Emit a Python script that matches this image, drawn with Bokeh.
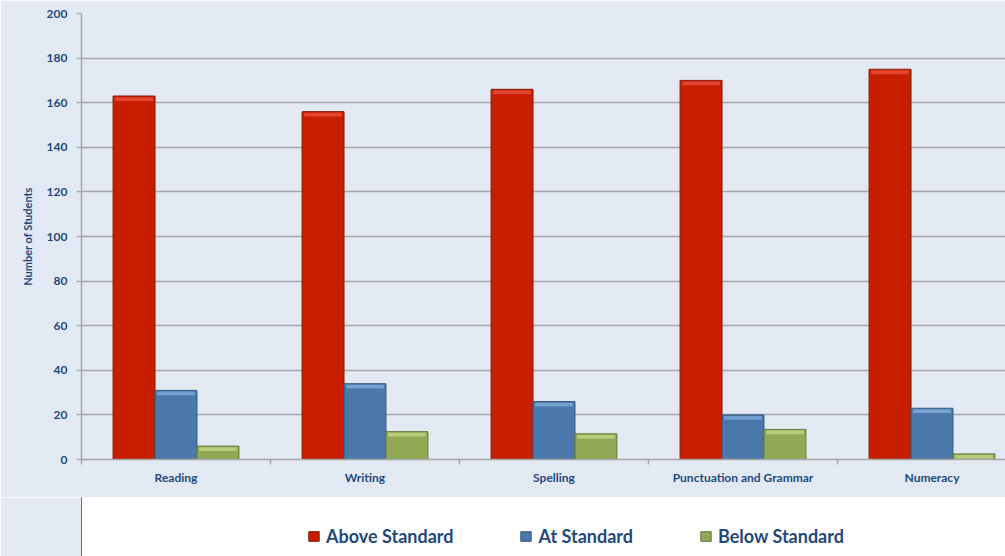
from bokeh.plotting import figure
from bokeh.layouts import column
from bokeh.models import Range1d, FixedTicker, Legend, LegendItem, BoxAnnotation
from bokeh.embed import file_html
from bokeh.resources import INLINE

# ---- data ----
categories = ["Reading", "Writing", "Spelling", "Punctuation and Grammar", "Numeracy"]
above_standard = [163, 156, 166, 170, 175]
at_standard = [31, 34, 26, 20, 23]
below_standard = [6, 12.5, 11.5, 13.5, 2.5]
series_names = ["Above Standard", "At Standard", "Below Standard"]
y_ticks = [0, 20, 40, 60, 80, 100, 120, 140, 160, 180, 200]

# ---- style ----
BG = "#E2E9F3"
GRID = "#A6A6A6"
TXT = "#1F497D"
FONT = "Lato"
fills = ["#C81E00", "#4A78AA", "#8FA955"]
edges = ["#8A1A08", "#35597F", "#65793B"]
highlights = ["#EE5548", "#86B2E0", "#C9DC8E"]
bar_w = 0.222
offsets = [-bar_w, 0.0, bar_w]

n = len(categories)
centers = [i + 0.5 for i in range(n)]

# ---------------- main chart ----------------
p = figure(width=1005, height=497, output_backend="svg", toolbar_location=None,
           x_range=Range1d(0, 924 / 189), y_range=Range1d(0, 200),
           min_border_left=81, min_border_right=0, min_border_top=13,
           min_border_bottom=38)
p.background_fill_color = BG
p.border_fill_color = BG
p.outline_line_color = None

p.xgrid.visible = False
p.ygrid.ticker = FixedTicker(ticks=y_ticks)
p.ygrid.grid_line_color = GRID
p.ygrid.grid_line_width = 1.5

p.yaxis.ticker = FixedTicker(ticks=y_ticks)
p.yaxis.axis_line_color = GRID
p.yaxis.axis_line_width = 1.5
p.yaxis.major_tick_line_color = GRID
p.yaxis.major_tick_line_width = 1.5
p.yaxis.major_tick_out = 5
p.yaxis.major_tick_in = 0
p.yaxis.minor_tick_line_color = None
p.yaxis.major_label_text_font = FONT
p.yaxis.major_label_text_font_style = "bold"
p.yaxis.major_label_text_font_size = "12px"
p.yaxis.major_label_text_color = TXT
p.yaxis.major_label_standoff = 9
p.yaxis.axis_label = "Number of Students"
p.yaxis.axis_label_text_font = FONT
p.yaxis.axis_label_text_font_style = "bold"
p.yaxis.axis_label_text_font_size = "11px"
p.yaxis.axis_label_text_color = TXT
p.yaxis.axis_label_standoff = 10

p.xaxis.ticker = FixedTicker(ticks=centers, minor_ticks=list(range(n + 1)))
p.xaxis.major_label_overrides = {c: name for c, name in zip(centers, categories)}
p.xaxis.axis_line_color = GRID
p.xaxis.axis_line_width = 1.5
p.xaxis.major_tick_line_color = None
p.xaxis.minor_tick_line_color = GRID
p.xaxis.minor_tick_line_width = 1.5
p.xaxis.minor_tick_out = 5
p.xaxis.minor_tick_in = 0
p.xaxis.major_label_text_font = FONT
p.xaxis.major_label_text_font_style = "bold"
p.xaxis.major_label_text_font_size = "12px"
p.xaxis.major_label_text_color = TXT
p.xaxis.major_label_standoff = 4

for k, vals in enumerate([above_standard, at_standard, below_standard]):
    xs = [c + offsets[k] for c in centers]
    p.vbar(x=xs, top=vals, bottom=0, width=bar_w, fill_color=fills[k],
           line_color=edges[k], line_width=1)
    # top bevel highlight
    p.vbar(x=xs, top=[v - 0.5 for v in vals], bottom=[max(v - 2.2, 0) for v in vals],
           width=bar_w * 0.9, fill_color=highlights[k], fill_alpha=0.7, line_color=None)

p.add_layout(BoxAnnotation(left=-76, right=-74, left_units="screen", right_units="screen",
                           bottom=-200, top=700, bottom_units="screen", top_units="screen",
                           fill_color=GRID, fill_alpha=1, line_color=None, level="overlay"))

# ---------------- legend strip ----------------
lg = figure(width=1005, height=59, output_backend="svg", toolbar_location=None,
            x_range=Range1d(0, 1), y_range=Range1d(0, 1),
            x_axis_type=None, y_axis_type=None,
            min_border_left=0, min_border_right=0, min_border_top=0, min_border_bottom=0)
lg.background_fill_color = None
lg.border_fill_color = BG
lg.outline_line_color = None
lg.grid.visible = False

proxies = []
for k in range(3):
    # legend swatches only; drawn outside the visible range
    proxies.append(lg.vbar(x=[-5], top=[1], width=0.1, fill_color=fills[k],
                           line_color=edges[k], line_width=1))

legend = Legend(items=[LegendItem(label=series_names[k], renderers=[proxies[k]]) for k in range(3)],
                location=(226, 9), orientation="horizontal", spacing=66,
                glyph_width=13, glyph_height=12, label_standoff=6, label_width=0,
                padding=0, margin=0, border_line_color=None, background_fill_alpha=0,
                label_text_font=FONT, label_text_font_style="bold",
                label_text_font_size="18px", label_text_color=TXT)
lg.add_layout(legend)

layout = column(p, lg, spacing=0)
open("out.html", "w").write(file_html(layout, INLINE))
